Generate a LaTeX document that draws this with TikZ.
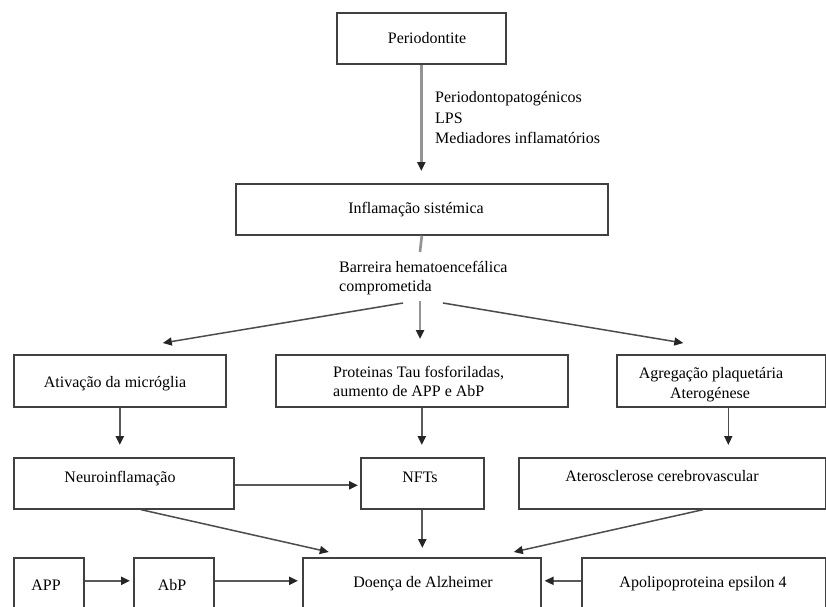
\documentclass[tikz,border=0pt]{standalone}
\usepackage{fontspec}
\setmainfont{Liberation Serif}
\usetikzlibrary{arrows.meta,calc}
\begin{document}
\begin{tikzpicture}[x=1pt,y=-1pt,
  box/.style={draw=black!75, line width=1.6pt, inner sep=0pt, anchor=north west},
  txt/.style={inner sep=0pt, font=\fontsize{16}{20}\selectfont, anchor=base},
  txtl/.style={txt, anchor=base west},
  tip/.style={-{Triangle[length=9pt,width=8pt,color=black!85]}},
  arrlight/.style={tip, draw=black!42, line width=2.6pt},
  arrdark/.style={tip, draw=black!65, line width=2.2pt},
  arrthin/.style={tip, draw=black!70, line width=1.5pt},
  plain/.style={draw=black!42, line width=2.6pt}
]
\clip (0,0) rectangle (826,606);
\fill[white] (0,0) rectangle (826,606);

% boxes
\node[box, minimum width=169pt, minimum height=51pt] (period) at (336,12) {};
\node[box, minimum width=372pt, minimum height=51pt] (infl)   at (235,183) {};
\node[box, minimum width=212pt, minimum height=52pt] (ativ)   at (13,354) {};
\node[box, minimum width=292pt, minimum height=52pt] (prot)   at (275,354) {};
\node[box, minimum width=209pt, minimum height=52pt] (agreg)  at (616,354) {};
\node[box, minimum width=220pt, minimum height=51pt] (neuro)  at (13,457) {};
\node[box, minimum width=123pt, minimum height=51pt] (nfts)   at (360,457) {};
\node[box, minimum width=307pt, minimum height=51pt] (ater)   at (518,457) {};
\node[box, minimum width=70pt,  minimum height=54pt] (app)    at (13,557) {};
\node[box, minimum width=80pt,  minimum height=54pt] (abp)    at (133,557) {};
\node[box, minimum width=238pt, minimum height=54pt] (doenca) at (302,557) {};
\node[box, minimum width=244pt, minimum height=54pt] (apo)    at (581,557) {};

% box texts
\node[txt] (tperiod) at (427,43) {Periodontite};
\node[txt] (tinfl)   at (416,213) {Inflamação sistémica};
\node[txt] (tativ)   at (115,387) {Ativação da micróglia};
\node[txtl] (tprot1) at (333,377) {Proteinas Tau fosforiladas,};
\node[txtl] (tprot2) at (333,396) {aumento de APP e AbP};
\node[txt] (tagreg1) at (711,378) {Agregação plaquetária};
\node[txt] (tagreg2) at (710,398) {Aterogénese};
\node[txt] (tneuro)  at (120,482) {Neuroinflamação};
\node[txt] (tnfts)   at (420,482) {NFTs};
\node[txt] (tater)   at (662,481) {Aterosclerose cerebrovascular};
\node[txt] (tapp)    at (46,590) {APP};
\node[txt] (tabp)    at (172,590) {AbP};
\node[txt] (tdoenca) at (423,587) {Doença de Alzheimer};
\node[txt] (tapo)    at (703,587) {Apolipoproteina epsilon 4};

% connector labels
\node[txtl] (lab1) at (435,102) {Periodontopatogénicos};
\node[txtl] (lab2) at (435,123) {LPS};
\node[txtl] (lab3) at (435,143) {Mediadores inflamatórios};
\node[txtl] (bar1) at (339,272) {Barreira hematoencefálica};
\node[txtl] (bar2) at (339,291) {comprometida};

% branch points around the blood-brain barrier label
\coordinate (bTop) at (420,252);
\coordinate (bBot) at (420,301);
\coordinate (bL) at (403,303);
\coordinate (bR) at (443,303);
\coordinate (ativIn) at ($(ativ.north)+(43,-11)$);
\coordinate (agregIn) at ($(agreg.north)+(-38,-11)$);
\coordinate (neuroOut) at ($(neuro.south)+(17,0)$);
\coordinate (aterOut) at ($(ater.south)+(31,0)$);
\coordinate (doencaInL) at ($(doenca.north)+(-93,-5)$);
\coordinate (doencaInR) at ($(doenca.north)+(92,-5)$);

% connectors
\draw[arrlight, shorten >=12pt] (period.south) -- (period.south |- infl.north);
\draw[plain] (infl.south) -- (bTop);
\draw[arrlight, shorten >=15pt] (bBot) -- (bBot |- prot.north);
\draw[arrthin] (bL) -- (ativIn);
\draw[arrthin] (bR) -- (agregIn);
\draw[arrdark, shorten >=12pt] (ativ.south) -- (ativ.south |- neuro.north);
\draw[arrdark, shorten >=12pt] (prot.south) -- (prot.south |- nfts.north);
\draw[arrthin, shorten >=12pt] ([xshift=7pt]agreg.south) -- ([xshift=7pt]agreg.south |- ater.north);
\draw[arrdark, shorten >=2pt] ([yshift=-2pt]neuro.east) -- ([yshift=-2pt]nfts.west);
\draw[arrdark, shorten >=9pt] (nfts.south) -- (nfts.south |- doenca.north);
\draw[arrthin] (neuroOut) -- (doencaInL);
\draw[arrthin] (aterOut) -- (doencaInR);
\draw[arrdark, shorten >=3pt] ([yshift=4pt]app.east) -- ([yshift=4pt]abp.west);
\draw[arrdark, shorten >=4pt] ([yshift=4pt]abp.east) -- ([yshift=4pt]doenca.west);
\draw[arrdark, shorten >=3pt] ([yshift=4pt]apo.west) -- ([yshift=4pt]doenca.east);
\end{tikzpicture}
\end{document}
